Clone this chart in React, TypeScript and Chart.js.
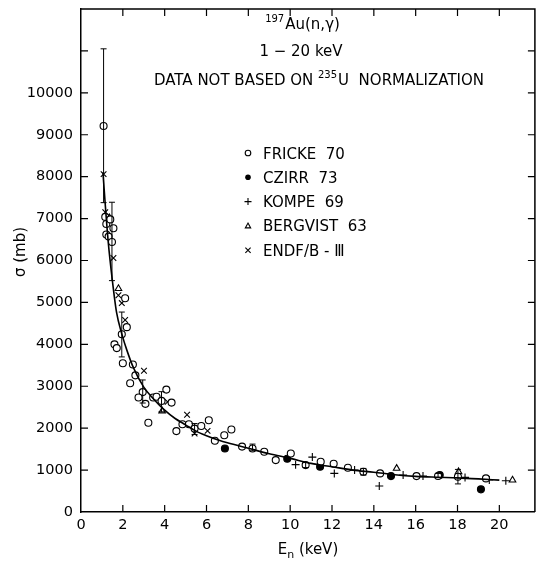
import React, { useEffect, useRef } from 'react';
import { Chart, registerables } from 'chart.js';
Chart.register(...registerables);

// ---- data (E in keV, sigma in mb) ----
const curveE = [1.05, 1.15, 1.3, 1.5, 1.7, 1.95, 2.2, 2.5, 3.0, 3.5, 4.0, 4.5, 5.0, 5.5, 6.0, 6.6, 7.0, 8.0, 9.0, 10.0, 11.0, 12.0, 13.0, 14.0, 15.0, 16.0, 17.0, 18.0, 19.0, 20.0];
const curveSigma = [8100, 7400, 6450, 5520, 4760, 4250, 3850, 3450, 2980, 2680, 2430, 2230, 2080, 1930, 1820, 1710, 1650, 1520, 1390, 1280, 1160, 1080, 1000, 950, 890, 850, 830, 815, 790, 760];

const frickeE = [1.08, 1.16, 1.21, 1.40, 1.21, 1.32, 1.48, 1.55, 2.11, 1.95, 2.19, 1.60, 1.71, 2.00, 2.48, 2.60, 2.35, 2.95, 2.75, 3.08, 3.45, 3.61, 3.85, 4.08, 4.33, 3.22, 4.56, 4.85, 5.16, 5.43, 5.75, 6.11, 6.40, 6.85, 7.19, 7.70, 8.20, 8.76, 9.31, 10.03, 10.74, 11.46, 12.08, 12.76, 13.50, 14.30, 16.04, 17.07, 18.02, 19.36];
const frickeSigma = [9210, 7040, 6870, 6980, 6620, 6570, 6440, 6770, 5100, 4240, 4410, 4000, 3910, 3550, 3520, 3260, 3070, 2860, 2730, 2580, 2730, 2750, 2650, 2920, 2610, 2130, 1930, 2095, 2095, 1990, 2050, 2190, 1700, 1830, 1968, 1560, 1516, 1436, 1238, 1397, 1119, 1198, 1150, 1056, 960, 921, 857, 860, 841, 802];

const czirrE = [6.88, 9.86, 11.43, 14.82, 17.15, 19.12];
const czirrSigma = [1516, 1270, 1079, 857, 880, 540];

const kompeE = [10.26, 11.06, 12.11, 13.08, 14.26, 15.40, 16.35, 18.36, 19.52, 20.31];
const kompeSigma = [1130, 1310, 921, 1000, 619, 881, 857, 826, 762, 746];

const bergvistE = [1.36, 1.79, 3.88, 15.09, 18.05, 20.63];
const bergvistSigma = [7016, 5330, 2410, 1040, 960, 762];

const endfE = [1.08, 1.16, 1.55, 1.79, 1.95, 2.11, 3.01, 4.14, 5.07, 5.43, 6.05];
const endfSigma = [8060, 7150, 6060, 5170, 4984, 4580, 3370, 2627, 2320, 1873, 1936];

const errE = [1.08, 1.48, 1.95, 2.95, 3.85, 5.43, 8.20, 10.74, 13.50, 17.07, 18.02];
const errLo = [7380, 5520, 3700, 2600, 2390, 1850, 1460, 1060, 880, 820, 670];
const errHi = [11050, 7390, 4770, 3150, 2870, 2110, 1620, 1180, 1040, 920, 1016];

const xTickStep = 2;
const yTickStep = 1000;
const yLabelMax = 10000;

const legendLabels = ['FRICKE  70', 'CZIRR  73', 'KOMPE  69', 'BERGVIST  63', 'ENDF/B - \u2162'];
const legendStyles = ['openCircle', 'filledCircle', 'cross', 'triangle', 'crossRot'];

const FONT = 'DejaVu Sans';

const pts = (xs: number[], ys: number[]) => xs.map((x, i) => ({ x, y: ys[i] }));

function drawMarker(ctx: CanvasRenderingContext2D, style: string, x: number, y: number, r: number) {
  ctx.save();
  ctx.strokeStyle = '#000';
  ctx.fillStyle = '#000';
  ctx.lineWidth = 1.1;
  ctx.beginPath();
  if (style === 'openCircle') {
    ctx.arc(x, y, r, 0, Math.PI * 2);
    ctx.stroke();
  } else if (style === 'filledCircle') {
    ctx.arc(x, y, r, 0, Math.PI * 2);
    ctx.fill();
  } else if (style === 'cross') {
    ctx.moveTo(x - r, y); ctx.lineTo(x + r, y);
    ctx.moveTo(x, y - r); ctx.lineTo(x, y + r);
    ctx.stroke();
  } else if (style === 'crossRot') {
    const d = r * 0.75;
    ctx.moveTo(x - d, y - d); ctx.lineTo(x + d, y + d);
    ctx.moveTo(x + d, y - d); ctx.lineTo(x - d, y + d);
    ctx.stroke();
  } else if (style === 'triangle') {
    ctx.moveTo(x, y - r);
    ctx.lineTo(x + r * 0.95, y + r * 0.7);
    ctx.lineTo(x - r * 0.95, y + r * 0.7);
    ctx.closePath();
    ctx.stroke();
  }
  ctx.restore();
}

const decorPlugin = {
  id: 'decor',
  afterDatasetsDraw(chart: any) {
    const ctx: CanvasRenderingContext2D = chart.ctx;
    const { left, right, top, bottom } = chart.chartArea;
    const xs = chart.scales.x;
    const ys = chart.scales.y;
    ctx.save();
    ctx.strokeStyle = '#000';
    ctx.fillStyle = '#000';

    // frame top/right
    ctx.lineWidth = 1.5;
    ctx.beginPath();
    ctx.moveTo(left, top); ctx.lineTo(right, top); ctx.lineTo(right, bottom);
    ctx.stroke();

    // inward ticks
    ctx.lineWidth = 1.2;
    ctx.beginPath();
    xs.ticks.forEach((t: any) => {
      const px = xs.getPixelForValue(t.value);
      if (px <= left + 1 || px >= right - 1) return;
      ctx.moveTo(px, bottom); ctx.lineTo(px, bottom - 7);
      ctx.moveTo(px, top); ctx.lineTo(px, top + 7);
    });
    ys.ticks.forEach((t: any) => {
      const py = ys.getPixelForValue(t.value);
      if (py <= top + 1 || py >= bottom - 1) return;
      ctx.moveTo(left, py); ctx.lineTo(left + 7, py);
      ctx.moveTo(right, py); ctx.lineTo(right - 7, py);
    });
    ctx.stroke();

    // error bars
    ctx.lineWidth = 1;
    ctx.beginPath();
    errE.forEach((e, i) => {
      const px = xs.getPixelForValue(e);
      const p1 = ys.getPixelForValue(errLo[i]);
      const p2 = ys.getPixelForValue(errHi[i]);
      ctx.moveTo(px, p1); ctx.lineTo(px, p2);
      ctx.moveTo(px - 3, p1); ctx.lineTo(px + 3, p1);
      ctx.moveTo(px - 3, p2); ctx.lineTo(px + 3, p2);
    });
    ctx.stroke();

    ctx.textBaseline = 'alphabetic';
    ctx.textAlign = 'left';

    // title line 1: 197Au(n,γ)
    const big = `15px "${FONT}"`;
    const small = `10px "${FONT}"`;
    ctx.font = small;
    const w197 = ctx.measureText('197').width;
    ctx.font = big;
    const wAu = ctx.measureText('Au(n,\u03b3)').width;
    let sx = 302 - (w197 + wAu) / 2;
    ctx.font = small; ctx.fillText('197', sx, 22);
    ctx.font = big; ctx.fillText('Au(n,\u03b3)', sx + w197 + 1, 29);

    // line 2
    ctx.textAlign = 'center';
    ctx.fillText('1 \u2212 20 keV', 301, 56);

    // line 3
    ctx.textAlign = 'left';
    const partA = 'DATA NOT BASED ON ';
    const partB = 'U  NORMALIZATION';
    ctx.font = big;
    const wA = ctx.measureText(partA).width;
    const wB = ctx.measureText(partB).width;
    ctx.font = small;
    const w235 = ctx.measureText('235').width;
    sx = 319 - (wA + w235 + wB + 1) / 2;
    ctx.font = big; ctx.fillText(partA, sx, 85);
    ctx.font = small; ctx.fillText('235', sx + wA, 78);
    ctx.font = big; ctx.fillText(partB, sx + wA + w235 + 1, 85);

    // legend
    ctx.font = big;
    legendLabels.forEach((lab, i) => {
      const cy = 153 + i * 24.3;
      drawMarker(ctx, legendStyles[i], 248, cy, legendStyles[i] === 'cross' || legendStyles[i] === 'crossRot' ? 3.5 : 2.8);
      ctx.fillText(lab, 263, cy + 5.5);
    });

    // x axis title: E_n (keV)
    const wE = ctx.measureText('E').width;
    ctx.font = `11px "${FONT}"`;
    const wn = ctx.measureText('n').width;
    ctx.font = big;
    const wK = ctx.measureText(' (keV)').width;
    const cx = (left + right) / 2;
    sx = cx - (wE + wn + wK) / 2;
    ctx.fillText('E', sx, 554);
    ctx.font = `11px "${FONT}"`; ctx.fillText('n', sx + wE, 558);
    ctx.font = big; ctx.fillText(' (keV)', sx + wE + wn, 554);

    // y axis title
    ctx.save();
    ctx.translate(25, 252);
    ctx.rotate(-Math.PI / 2);
    ctx.textAlign = 'center';
    ctx.fillText('\u03c3 (mb)', 0, 0);
    ctx.restore();

    ctx.restore();
  },
};

export default function App() {
  const ref = useRef<HTMLCanvasElement | null>(null);
  useEffect(() => {
    if (!ref.current) return;
    const scat = (data: any, style: string, filled: boolean, r: number) => ({
      type: 'scatter' as const,
      data,
      showLine: false,
      pointStyle: style,
      pointRadius: r,
      pointBorderWidth: 1.1,
      pointBorderColor: '#000',
      pointBackgroundColor: filled ? '#000' : '#fff',
      borderColor: '#000',
      backgroundColor: filled ? '#000' : '#fff',
    });
    const chart = new Chart(ref.current, {
      type: 'scatter',
      data: {
        datasets: [
          {
            type: 'line',
            data: pts(curveE, curveSigma),
            borderColor: '#000',
            borderWidth: 1.6,
            pointRadius: 0,
            cubicInterpolationMode: 'monotone',
            fill: false,
          } as any,
          scat(pts(frickeE, frickeSigma), 'circle', false, 3.5),
          scat(pts(czirrE, czirrSigma), 'circle', true, 3.5),
          scat(pts(kompeE, kompeSigma), 'cross', false, 4),
          scat(pts(bergvistE, bergvistSigma), 'triangle', false, 3.8),
          scat(pts(endfE, endfSigma), 'crossRot', false, 4),
        ],
      },
      options: {
        responsive: false,
        animation: false,
        layout: { padding: { top: 9, right: 3, left: 0, bottom: 0 } },
        plugins: { legend: { display: false }, tooltip: { enabled: false } },
        scales: {
          x: {
            type: 'linear',
            min: 0,
            max: 21.7,
            grid: { display: false, drawTicks: false },
            border: { display: true, color: '#000', width: 1.5 },
            ticks: {
              stepSize: xTickStep,
              includeBounds: false,
              color: '#000',
              font: { family: FONT, size: 14.5 },
              padding: 5,
              maxRotation: 0,
              autoSkip: false,
            },
            afterFit: (s: any) => { s.height = 54; s.paddingLeft = 0; s.paddingRight = 0; },
          },
          y: {
            type: 'linear',
            min: 0,
            max: 12000,
            grid: { display: false, drawTicks: false },
            border: { display: true, color: '#000', width: 1.5 },
            ticks: {
              stepSize: yTickStep,
              color: '#000',
              font: { family: FONT, size: 14.5 },
              padding: 8,
              autoSkip: false,
              callback: (v: any) => (Number(v) <= yLabelMax ? String(v) : ''),
            },
            afterFit: (s: any) => { s.width = 81; s.paddingTop = 0; s.paddingBottom = 0; },
          },
        },
      } as any,
      plugins: [decorPlugin],
    });
    return () => chart.destroy();
  }, []);
  return (
    <div style={{ position: 'absolute', left: 0, top: 0, width: 540, height: 566, background: '#fff' }}>
      <canvas ref={ref} width={540} height={566} style={{ width: 540, height: 566, display: 'block' }} />
    </div>
  );
}
